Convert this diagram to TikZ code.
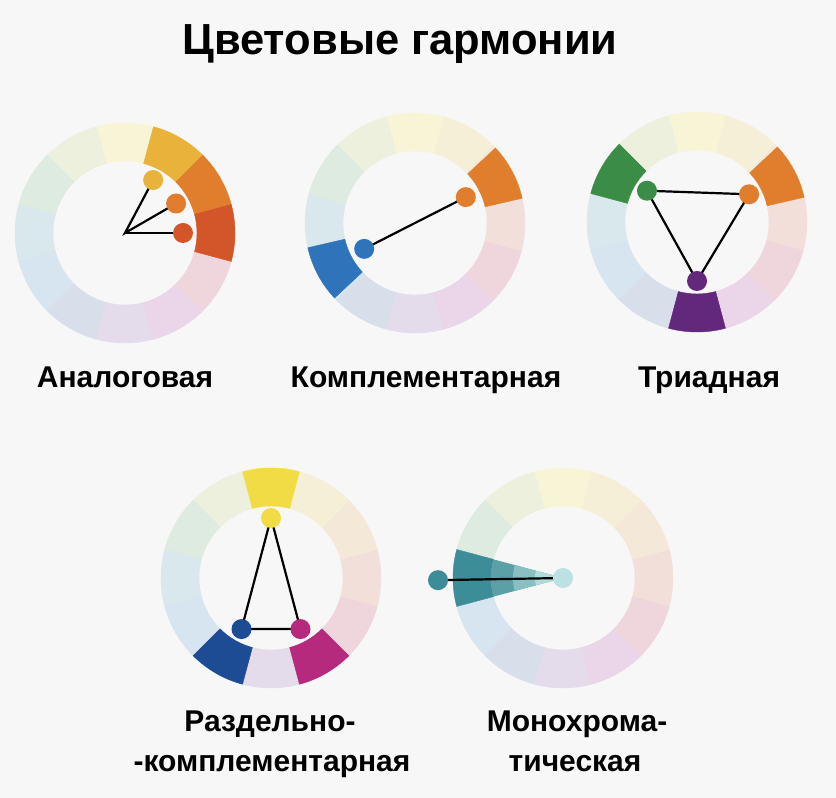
\documentclass[tikz,border=0pt]{standalone}
\usepackage{fontspec}
\setmainfont{Liberation Sans}
\definecolor{bgc}{HTML}{F7F7F7}
\definecolor{p0}{HTML}{F2DFDA}
\definecolor{p30}{HTML}{F4E8D8}
\definecolor{p60}{HTML}{F6EFD8}
\definecolor{p90}{HTML}{F8F5D7}
\definecolor{p120}{HTML}{EEF0DE}
\definecolor{p150}{HTML}{DDEBE0}
\definecolor{p180}{HTML}{D8E8EC}
\definecolor{p210}{HTML}{D6E5EF}
\definecolor{p240}{HTML}{D8DEEA}
\definecolor{p270}{HTML}{E4DCEA}
\definecolor{p300}{HTML}{EBD5E8}
\definecolor{p330}{HTML}{EFD6DC}
\definecolor{cyo}{HTML}{E9B33B}
\definecolor{cor}{HTML}{E07E2E}
\definecolor{cro}{HTML}{D3552A}
\definecolor{cbl}{HTML}{2F74BA}
\definecolor{cgr}{HTML}{3B8C47}
\definecolor{cpu}{HTML}{62287C}
\definecolor{cye}{HTML}{F2DC46}
\definecolor{cdb}{HTML}{1E4C94}
\definecolor{cma}{HTML}{B62A7E}
\definecolor{tA}{HTML}{3C8D98}
\definecolor{tB}{HTML}{5AA0A6}
\definecolor{tC}{HTML}{88BFC0}
\definecolor{tD}{HTML}{B4DBDC}
\definecolor{tE}{HTML}{BDE0E1}
\newcommand\ringseg[2]{%
  \fill[#2, draw=#2, line width=0.4pt] (#1-15:72) arc[start angle=#1-15, end angle=#1+15, radius=72]
    -- (#1+15:110) arc[start angle=#1+15, end angle=#1-15, radius=110] -- cycle;}
\newcommand\palewheel{%
  \foreach \a in {0,30,...,330}{\ringseg{\a}{p\a}}}
\tikzset{
  dot/.style={circle, inner sep=0pt, minimum size=20pt, fill=#1},
  link/.style={black, line width=2.2pt},
  lab/.style={font=\fontsize{30}{36}\selectfont\bfseries, inner sep=0pt, text=black},
}
\begin{document}
\begin{tikzpicture}[x=1pt,y=1pt]
\fill[bgc] (0,0) rectangle (836,798);
\useasboundingbox (0,0) rectangle (836,798);

\node[font=\fontsize{43.5}{50}\selectfont\bfseries, inner sep=0pt, anchor=base] (title) at (400,743) {Цветовые гармонии};

% wheel 1: analogous
\coordinate (w1) at (125,565);
\begin{scope}[shift={(w1)}]
  \palewheel
  \ringseg{60}{cyo}\ringseg{30}{cor}\ringseg{0}{cro}
  \coordinate (c1) at (0,0);
  \coordinate (a1) at (62:60);
  \coordinate (a2) at (30:59);
  \coordinate (a3) at (0:58);
\end{scope}
\draw[link] (a1) -- (c1) -- (a2);
\draw[link] (c1) -- (a3);
\node[dot=cyo] (a1n) at (a1) {};
\node[dot=cor] (a2n) at (a2) {};
\node[dot=cro] (a3n) at (a3) {};
\node[lab, anchor=base] (l1) at (125,410) {Аналоговая};

% wheel 2: complementary
\coordinate (w2) at (415,575);
\begin{scope}[shift={(w2)}]
  \palewheel
  \ringseg{28}{cor}\ringseg{208}{cbl}
  \coordinate (b1) at (27:57);
  \coordinate (b2) at (207:57);
\end{scope}
\draw[link] (b1) -- (b2);
\node[dot=cor] (b1n) at (b1) {};
\node[dot=cbl] (b2n) at (b2) {};
\node[lab, anchor=base] (l2) at (426,410) {Комплементарная};

% wheel 3: triadic
\coordinate (w3) at (697,576);
\begin{scope}[shift={(w3)}]
  \palewheel
  \ringseg{28}{cor}\ringseg{150}{cgr}\ringseg{270}{cpu}
  \coordinate (t1) at (28:59);
  \coordinate (t2) at (148:59);
  \coordinate (t3) at (270:59);
\end{scope}
\draw[link] (t1) -- (t2) -- (t3) -- cycle;
\node[dot=cor] (t1n) at (t1) {};
\node[dot=cgr] (t2n) at (t2) {};
\node[dot=cpu] (t3n) at (t3) {};
\node[lab, anchor=base] (l3) at (709,410) {Триадная};

% wheel 4: split complementary
\coordinate (w4) at (271,220);
\begin{scope}[shift={(w4)}]
  \palewheel
  \ringseg{90}{cye}\ringseg{240}{cdb}\ringseg{300}{cma}
  \coordinate (s1) at (90:60);
  \coordinate (s2) at (240:59);
  \coordinate (s3) at (300:59);
\end{scope}
\draw[link] (s1) -- (s2) -- (s3) -- cycle;
\node[dot=cye] (s1n) at (s1) {};
\node[dot=cdb] (s2n) at (s2) {};
\node[dot=cma] (s3n) at (s3) {};
\node[lab, anchor=base] (l4a) at (270,66) {Раздельно-};
\node[lab, anchor=base] (l4b) at (272,26) {-комплементарная};

% wheel 5: monochromatic
\coordinate (w5) at (563,220);
\begin{scope}[shift={(w5)}]
  \palewheel
  \ringseg{180}{tA}
  \fill[tB] (0,0) -- (165:72) arc[start angle=165, end angle=195, radius=72] -- cycle;
  \fill[tC] (0,0) -- (165:50) arc[start angle=165, end angle=195, radius=50] -- cycle;
  \fill[tD] (0,0) -- (165:28) arc[start angle=165, end angle=195, radius=28] -- cycle;
  \coordinate (m1) at (181:125);
  \coordinate (m2) at (0,0);
\end{scope}
\draw[link] (m1) -- (m2);
\node[dot=tA] (m1n) at (m1) {};
\node[dot=tE] (m2n) at (m2) {};
\node[lab, anchor=base] (l5a) at (577,66) {Монохрома-};
\node[lab, anchor=base] (l5b) at (575,26) {тическая};
\end{tikzpicture}
\end{document}
